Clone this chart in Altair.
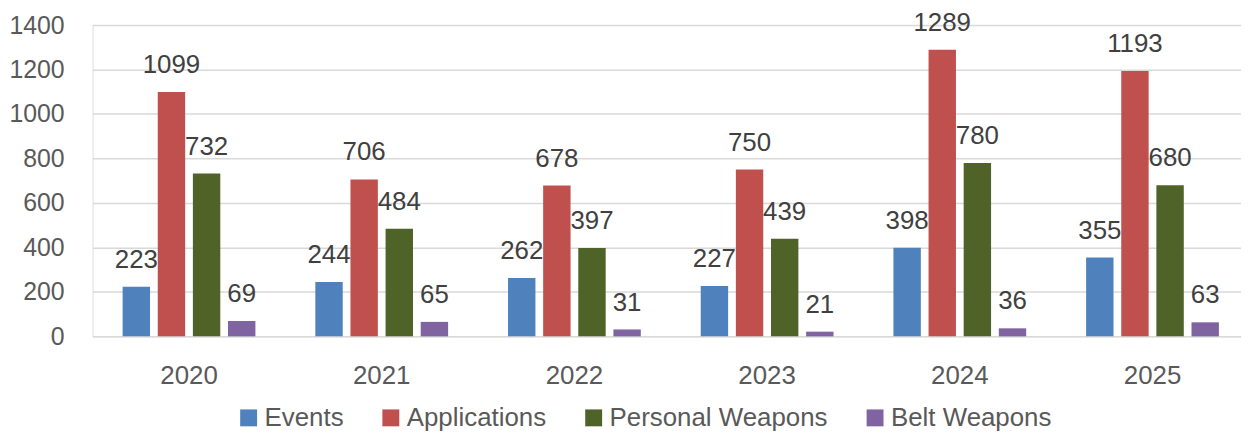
import altair as alt
import pandas as pd

years = ["2020", "2021", "2022", "2023", "2024", "2025"]
series = ["Events", "Applications", "Personal Weapons", "Belt Weapons"]
events = [223, 244, 262, 227, 398, 355]
applications = [1099, 706, 678, 750, 1289, 1193]
personal_weapons = [732, 484, 397, 439, 780, 680]
belt_weapons = [69, 65, 31, 21, 36, 63]
colors = ["#4F81BD", "#C0504D", "#4F6228", "#8064A2"]
y_ticks = [0, 200, 400, 600, 800, 1000, 1200, 1400]

rows = []
for name, vals in zip(series, [events, applications, personal_weapons, belt_weapons]):
    for yr, v in zip(years, vals):
        rows.append({"Year": yr, "Series": name, "Value": v})
df = pd.DataFrame(rows)

FONT = "Liberation Sans"

x_enc = alt.X("Year:N", sort=years, title=None,
              scale=alt.Scale(paddingInner=0.3, paddingOuter=0.13, align=0.58),
              axis=alt.Axis(labelAngle=0, domain=False, ticks=False, grid=False,
                            labelFont=FONT, labelFontSize=26, labelColor="#595959",
                            labelPadding=26))
xo_enc = alt.XOffset("Series:N", sort=series,
                     scale=alt.Scale(paddingInner=0.22, paddingOuter=0.03))
y_enc = alt.Y("Value:Q", title=None,
              scale=alt.Scale(domain=[0, 1400], nice=False),
              axis=alt.Axis(values=y_ticks, format="d", domain=False, ticks=False,
                            gridColor="#D9D9D9", gridWidth=1.5,
                            labelFont=FONT, labelFontSize=25, labelColor="#595959",
                            labelPadding=28.5))

bars = alt.Chart(df).mark_bar().encode(
    x=x_enc, xOffset=xo_enc, y=y_enc,
    color=alt.Color("Series:N", sort=series,
                    scale=alt.Scale(domain=series, range=colors),
                    legend=alt.Legend(title=None, orient="none", direction="horizontal",
                                      columns=4, legendX=144, legendY=382,
                                      symbolType="square", symbolSize=289,
                                      symbolStrokeWidth=0, labelOffset=3,
                                      columnPadding=34, padding=0, labelLimit=0,
                                      labelFont=FONT, labelFontSize=26,
                                      labelColor="#595959"))
)

labels = alt.Chart(df).mark_text(
    font=FONT, fontSize=26, color="#404040", baseline="alphabetic", dy=-19
).encode(
    x=alt.X("Year:N", sort=years), xOffset=alt.XOffset("Series:N", sort=series),
    y="Value:Q", text="Value:Q"
)

chart = alt.layer(bars, labels).properties(
    width=1155, height=313,
    autosize=alt.AutoSizeParams(type="none"),
    padding={"left": 85, "top": 16, "right": 0, "bottom": 95},
).configure_view(stroke=None).configure(background="white")

chart.save("out.html", embed_options={"renderer": "svg", "actions": False})
